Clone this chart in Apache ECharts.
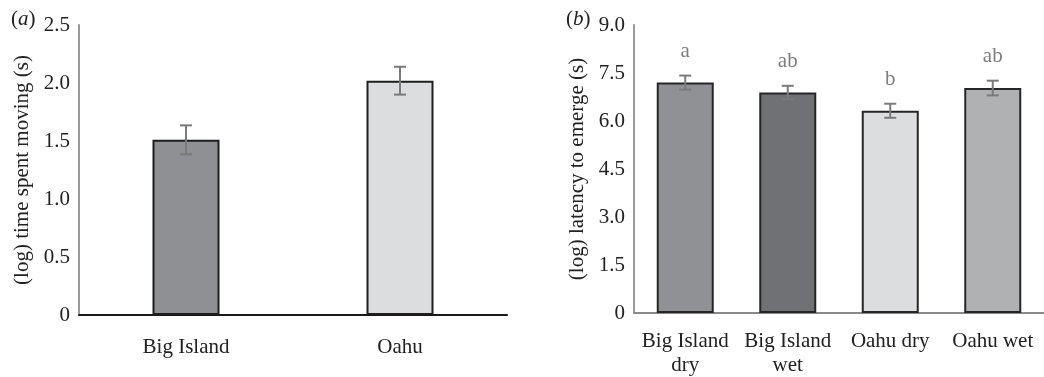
<!DOCTYPE html>
<html>
<head>
<meta charset="utf-8">
<script src="https://cdn.jsdelivr.net/npm/echarts@6/dist/echarts.min.js"></script>
<style>
html,body{margin:0;padding:0;background:#fff;}
#chart{width:1044px;height:377px;}
</style>
</head>
<body>
<div id="chart"></div>
<script>
// ---- data ----
const catsA = ['Big Island', 'Oahu'];
const valsA = [1.51, 2.02];
const errA = [0.125, 0.12];
const colorsA = ['#8f9094', '#dcdddf'];
const ticksA = { min: 0, max: 2.5, interval: 0.5 };

const catsB = ['Big Island\ndry', 'Big Island\nwet', 'Oahu dry', 'Oahu wet'];
const valsB = [7.20, 6.89, 6.32, 7.03];
const errB = [0.22, 0.21, 0.22, 0.23];
const lettersB = ['a', 'ab', 'b', 'ab'];
const colorsB = ['#909195', '#707175', '#dcdddf', '#b0b1b3'];
const ticksB = { min: 0, max: 9, interval: 1.5 };

const FONT = '"Liberation Serif", "Times New Roman", serif';
const TXT = '#222';

function errRender(vals, errs, letters) {
  return function (params, api) {
    const i = api.value(0);
    const v = vals[i], e = errs[i];
    const top = api.coord([i, v + e]);
    const bot = api.coord([i, v - e]);
    const x = top[0];
    const cw = 6;
    const style = { stroke: '#7a7a7a', lineWidth: 2 };
    const children = [
      { type: 'line', shape: { x1: x, y1: top[1], x2: x, y2: bot[1] }, style },
      { type: 'line', shape: { x1: x - cw, y1: top[1], x2: x + cw, y2: top[1] }, style },
      { type: 'line', shape: { x1: x - cw, y1: bot[1], x2: x + cw, y2: bot[1] }, style }
    ];
    if (letters) {
      children.push({
        type: 'text',
        style: {
          text: letters[i], x: x, y: top[1] - 24,
          align: 'center', verticalAlign: 'middle',
          fill: '#7d7d7d', font: '21px ' + FONT
        }
      });
    }
    return { type: 'group', children };
  };
}

const chart = echarts.init(document.getElementById('chart'), null, { renderer: 'canvas' });
chart.setOption({
  animation: false,
  backgroundColor: '#fff',
  title: [
    { text: '({i|a})', left: 6, top: 4,
      textStyle: { fontFamily: FONT, fontSize: 21, fontWeight: 'normal', color: TXT,
        rich: { i: { fontFamily: FONT, fontSize: 21, fontStyle: 'italic', color: TXT } } } },
    { text: '({i|b})', left: 561, top: 4,
      textStyle: { fontFamily: FONT, fontSize: 21, fontWeight: 'normal', color: TXT,
        rich: { i: { fontFamily: FONT, fontSize: 21, fontStyle: 'italic', color: TXT } } } }
  ],
  grid: [
    { left: 79, top: 25, width: 428, height: 290 },
    { left: 634, top: 25, width: 413, height: 291 }
  ],
  xAxis: [
    { type: 'category', gridIndex: 0, data: catsA,
      axisLine: { lineStyle: { color: '#1a1a1a', width: 2 } },
      axisTick: { show: false },
      axisLabel: { color: TXT, fontFamily: FONT, fontSize: 21, margin: 22 } },
    { type: 'category', gridIndex: 1, data: catsB,
      axisLine: { lineStyle: { color: '#8a8a8a', width: 2 } },
      axisTick: { show: false },
      axisLabel: { color: TXT, fontFamily: FONT, fontSize: 21, margin: 16, lineHeight: 24, interval: 0 } }
  ],
  yAxis: [
    { type: 'value', gridIndex: 0, min: ticksA.min, max: ticksA.max, interval: ticksA.interval,
      name: '(log) time spent moving (s)', nameLocation: 'middle', nameGap: 46,
      nameTextStyle: { color: TXT, fontFamily: FONT, fontSize: 21 },
      axisLine: { show: true, lineStyle: { color: '#999', width: 2 } },
      axisTick: { show: false }, splitLine: { show: false },
      axisLabel: { color: TXT, fontFamily: FONT, fontSize: 21, margin: 9,
        formatter: v => v === 0 ? '0' : v.toFixed(1) } },
    { type: 'value', gridIndex: 1, min: ticksB.min, max: ticksB.max, interval: ticksB.interval,
      name: '(log) latency to emerge (s)', nameLocation: 'middle', nameGap: 46,
      nameTextStyle: { color: TXT, fontFamily: FONT, fontSize: 21 },
      axisLine: { show: true, lineStyle: { color: '#999', width: 2 } },
      axisTick: { show: false }, splitLine: { show: false },
      axisLabel: { color: TXT, fontFamily: FONT, fontSize: 21, margin: 9,
        formatter: v => v === 0 ? '0' : v.toFixed(1) } }
  ],
  series: [
    { type: 'bar', xAxisIndex: 0, yAxisIndex: 0, barWidth: 67,
      data: valsA.map((v, i) => ({ value: v, itemStyle: { color: colorsA[i] } })),
      itemStyle: { borderColor: '#1e1e1e', borderWidth: 2 } },
    { type: 'custom', xAxisIndex: 0, yAxisIndex: 0, z: 5,
      data: valsA.map((v, i) => [i, v]),
      renderItem: errRender(valsA, errA, null) },
    { type: 'bar', xAxisIndex: 1, yAxisIndex: 1, barWidth: 57,
      data: valsB.map((v, i) => ({ value: v, itemStyle: { color: colorsB[i] } })),
      itemStyle: { borderColor: '#262626', borderWidth: 2 } },
    { type: 'custom', xAxisIndex: 1, yAxisIndex: 1, z: 5,
      data: valsB.map((v, i) => [i, v]),
      renderItem: errRender(valsB, errB, lettersB) }
  ]
});
</script>
</body>
</html>
